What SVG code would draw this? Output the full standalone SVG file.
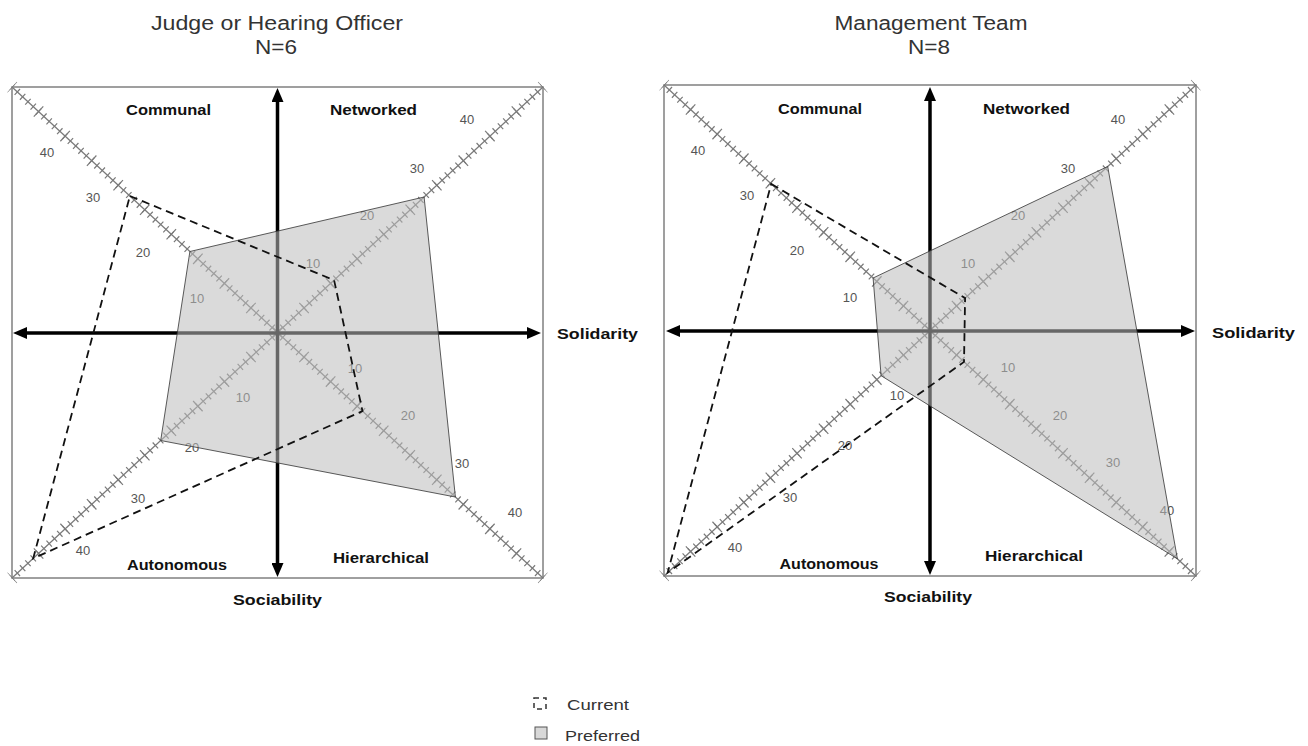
<svg xmlns="http://www.w3.org/2000/svg" width="1308" height="746" viewBox="0 0 1308 746">
<style>
.title{font-family:"Liberation Sans",Arial,sans-serif;font-size:20px;fill:#333;text-anchor:middle}
.quad{font-family:"Liberation Sans",Arial,sans-serif;font-size:15px;font-weight:bold;fill:#111;text-anchor:middle}
.axl{font-family:"Liberation Sans",Arial,sans-serif;font-size:15px;font-weight:bold;fill:#111}
.tk{font-family:"Liberation Sans",Arial,sans-serif;font-size:13px;fill:#555;text-anchor:middle}
.leg{font-family:"Liberation Sans",Arial,sans-serif;font-size:15px;fill:#333}
.box{fill:none;stroke:#808080;stroke-width:1.5}
.diag{stroke:#7a7a7a;stroke-width:1.3;fill:none}
.tsL{stroke:#7a7a7a;stroke-width:8;stroke-dasharray:1.2 6.032;stroke-dashoffset:0.6;fill:none}
.tlL{stroke:#7a7a7a;stroke-width:14;stroke-dasharray:1.2 34.96;stroke-dashoffset:0.6;fill:none}
.tsR{stroke:#7a7a7a;stroke-width:8;stroke-dasharray:1.2 6.0395;stroke-dashoffset:0.6;fill:none}
.tlR{stroke:#7a7a7a;stroke-width:14;stroke-dasharray:1.2 34.9975;stroke-dashoffset:0.6;fill:none}
.ax{stroke:#000;stroke-width:3.5;marker-start:url(#arr);marker-end:url(#arr)}
.pref{fill:#bbbbbb;fill-opacity:0.55;stroke:#333;stroke-width:1;stroke-opacity:0.8}
.cur{fill:none;stroke:#111;stroke-width:1.8;stroke-dasharray:8 5}
</style>
<defs>
<marker id="arr" markerUnits="userSpaceOnUse" markerWidth="14" markerHeight="12" refX="4" refY="6" orient="auto-start-reverse" viewBox="0 0 14 12">
<path d="M0,0 L14,6 L0,12 z" fill="#000"/>
</marker>
</defs>
<rect x="0" y="0" width="1308" height="746" fill="#fff"/>

<g id="chart-left">
<text class="title" x="277" y="30" textLength="252" lengthAdjust="spacingAndGlyphs">Judge or Hearing Officer</text>
<text class="title" x="276" y="54" textLength="42" lengthAdjust="spacingAndGlyphs">N=6</text>
<rect class="box" x="12" y="87" width="531" height="491"/>
<g id="left-diagonals">
<line class="diag" x1="12" y1="87" x2="543" y2="578"/>
<line class="diag" x1="543" y1="87" x2="12" y2="578"/>
<line class="tsL" x1="12" y1="87" x2="543" y2="578"/>
<line class="tsL" x1="543" y1="87" x2="12" y2="578"/>
<line class="tlL" x1="12" y1="87" x2="543" y2="578"/>
<line class="tlL" x1="543" y1="87" x2="12" y2="578"/>
</g>
<g id="left-ticklabels">
<text class="tk" x="47" y="157">40</text>
<text class="tk" x="93" y="202">30</text>
<text class="tk" x="143" y="257">20</text>
<text class="tk" x="197" y="303">10</text>
<text class="tk" x="313" y="268">10</text>
<text class="tk" x="367" y="220">20</text>
<text class="tk" x="417" y="173">30</text>
<text class="tk" x="467" y="124">40</text>
<text class="tk" x="355" y="373">10</text>
<text class="tk" x="408" y="420">20</text>
<text class="tk" x="462" y="468">30</text>
<text class="tk" x="515" y="517">40</text>
<text class="tk" x="243" y="402">10</text>
<text class="tk" x="192" y="452">20</text>
<text class="tk" x="138" y="503">30</text>
<text class="tk" x="83" y="555">40</text>
</g>
<g id="left-axes">
<line class="ax" x1="23" y1="333" x2="531" y2="333"/>
<line class="ax" x1="277.5" y1="98" x2="277.5" y2="567"/>
</g>
<polygon id="left-preferred" class="pref" points="189.9,251.5 424.1,197 455.4,497 160.7,440.5"/>
<polygon id="left-current" class="cur" points="129.9,196 334.1,280.2 362.5,411.1 33.2,558.4"/>
<text class="quad" x="168.5" y="115" textLength="85" lengthAdjust="spacingAndGlyphs">Communal</text>
<text class="quad" x="373.5" y="115" textLength="87" lengthAdjust="spacingAndGlyphs">Networked</text>
<text class="quad" x="177" y="570" textLength="100" lengthAdjust="spacingAndGlyphs">Autonomous</text>
<text class="quad" x="381" y="563" textLength="96" lengthAdjust="spacingAndGlyphs">Hierarchical</text>
<text class="axl" x="557" y="339" textLength="81" lengthAdjust="spacingAndGlyphs">Solidarity</text>
<text class="axl" x="277.5" y="605" text-anchor="middle" textLength="89" lengthAdjust="spacingAndGlyphs">Sociability</text>
</g>

<g id="chart-right">
<text class="title" x="931" y="30" textLength="193" lengthAdjust="spacingAndGlyphs">Management Team</text>
<text class="title" x="929" y="54" textLength="42" lengthAdjust="spacingAndGlyphs">N=8</text>
<rect class="box" x="664" y="85" width="532" height="491"/>
<g id="right-diagonals">
<line class="diag" x1="664" y1="85" x2="1196" y2="576"/>
<line class="diag" x1="1196" y1="85" x2="664" y2="576"/>
<line class="tsR" x1="664" y1="85" x2="1196" y2="576"/>
<line class="tsR" x1="1196" y1="85" x2="664" y2="576"/>
<line class="tlR" x1="664" y1="85" x2="1196" y2="576"/>
<line class="tlR" x1="1196" y1="85" x2="664" y2="576"/>
</g>
<g id="right-ticklabels">
<text class="tk" x="698" y="155">40</text>
<text class="tk" x="747" y="200">30</text>
<text class="tk" x="797" y="255">20</text>
<text class="tk" x="850" y="302">10</text>
<text class="tk" x="968" y="268">10</text>
<text class="tk" x="1018" y="220">20</text>
<text class="tk" x="1068" y="173">30</text>
<text class="tk" x="1118" y="124">40</text>
<text class="tk" x="1008" y="372">10</text>
<text class="tk" x="1060" y="420">20</text>
<text class="tk" x="1113" y="467">30</text>
<text class="tk" x="1167" y="515">40</text>
<text class="tk" x="897" y="400">10</text>
<text class="tk" x="845" y="450">20</text>
<text class="tk" x="790" y="502">30</text>
<text class="tk" x="735" y="552">40</text>
</g>
<g id="right-axes">
<line class="ax" x1="676" y1="331" x2="1185" y2="331"/>
<line class="ax" x1="930" y1="97" x2="930" y2="565"/>
</g>
<polygon id="right-preferred" class="pref" points="873.1,278 1107.7,166.5 1177.4,558.8 881.1,375.7"/>
<polygon id="right-current" class="cur" points="771.2,184 965.1,298.1 964,361.9 667.7,572.6"/>
<text class="quad" x="820" y="114" textLength="84" lengthAdjust="spacingAndGlyphs">Communal</text>
<text class="quad" x="1026.5" y="114" textLength="87" lengthAdjust="spacingAndGlyphs">Networked</text>
<text class="quad" x="829" y="569" textLength="99" lengthAdjust="spacingAndGlyphs">Autonomous</text>
<text class="quad" x="1034" y="561" textLength="98" lengthAdjust="spacingAndGlyphs">Hierarchical</text>
<text class="axl" x="1212" y="338" textLength="83" lengthAdjust="spacingAndGlyphs">Solidarity</text>
<text class="axl" x="928" y="602" text-anchor="middle" textLength="88" lengthAdjust="spacingAndGlyphs">Sociability</text>
</g>

<g id="legend">
<rect x="534" y="698" width="12" height="11" fill="none" stroke="#333" stroke-width="1.5" stroke-dasharray="5 4"/>
<text class="leg" x="567" y="710" textLength="62" lengthAdjust="spacingAndGlyphs">Current</text>
<rect x="535" y="727" width="12" height="12" fill="#d8d8d8" stroke="#555" stroke-width="1"/>
<text class="leg" x="565" y="741" textLength="75" lengthAdjust="spacingAndGlyphs">Preferred</text>
</g>
</svg>
